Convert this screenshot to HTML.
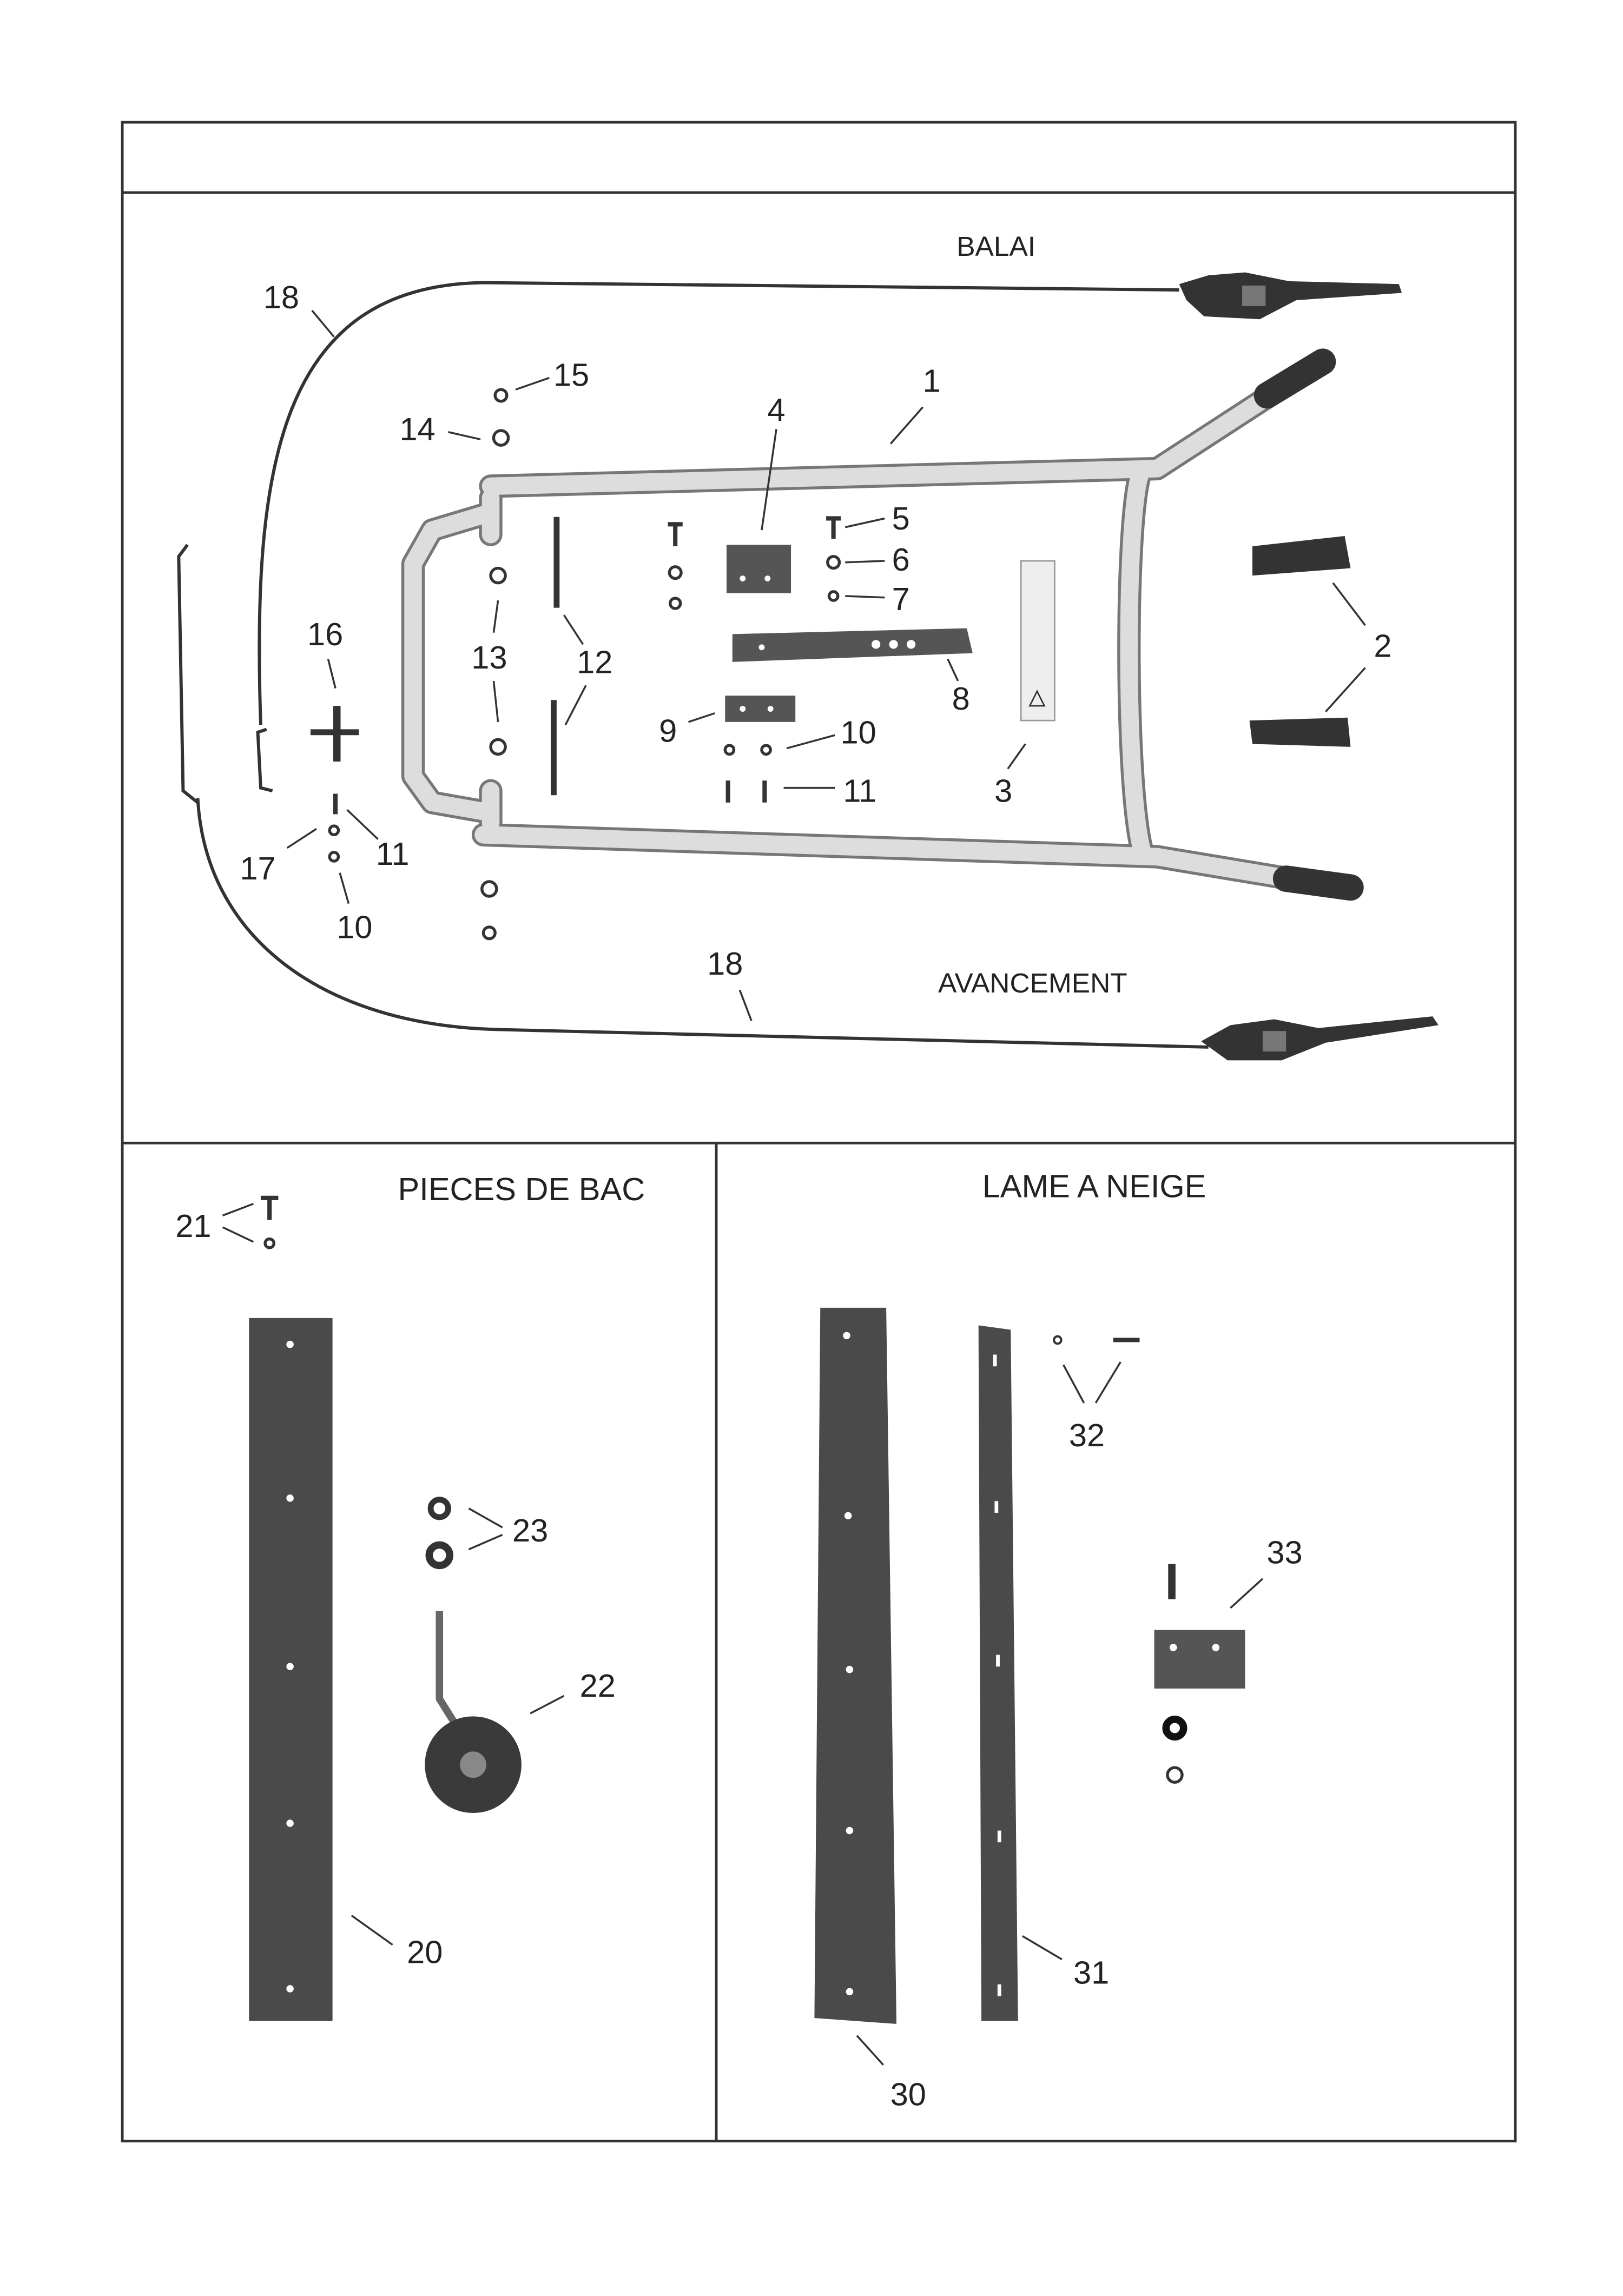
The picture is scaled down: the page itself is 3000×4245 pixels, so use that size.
<!DOCTYPE html>
<html><head><meta charset="utf-8"><style>
html,body{margin:0;padding:0;background:#fff}
svg{display:block}
text{font-family:"Liberation Sans",sans-serif;fill:#222}
</style></head><body>
<svg width="3000" height="4245" viewBox="0 0 1108 1567.8" preserveAspectRatio="none" xmlns="http://www.w3.org/2000/svg">
<rect x="0" y="0" width="1108" height="1568" fill="#fff"/>
<g fill="none" stroke="#333" stroke-width="1.8">
<rect x="83.5" y="83.5" width="951" height="1378.5"/>
<line x1="83.5" y1="131.5" x2="1034.5" y2="131.5"/>
<line x1="83.5" y1="780.5" x2="1034.5" y2="780.5"/>
<line x1="489" y1="780.5" x2="489" y2="1462"/>
</g>

<g fill="none" stroke="#333" stroke-width="2.2">
<path d="M178,495 C172,320 190,195 330,193 L805,198"/>
<path d="M135,545 C140,640 220,700 340,703 L825,715"/>
<path d="M128,372 L122,380 L125,540 L135,548"/>
<path d="M182,498 L176,500 L178,538 L186,540"/>
</g>
<g fill="#333">
<path d="M805,194 L825,188 L850,186 L880,192 L955,194 L957,200 L885,205 L860,218 L822,216 L810,205Z"/>
<rect x="848" y="195" width="16" height="14" fill="#777"/>
<path d="M820,711 L840,700 L870,696 L900,702 L978,694 L982,700 L905,712 L875,724 L838,724Z"/>
<rect x="862" y="704" width="16" height="14" fill="#777"/>
</g>

<g fill="none" stroke-linecap="round" stroke-linejoin="round">
<g stroke="#777" stroke-width="16">
<path d="M335,332 L790,320 L870,268"/>
<path d="M330,570 L790,585 L880,600"/>
<path d="M335,350 L295,362 L282,385 L282,530 L295,548 L335,555"/>
<path d="M778,325 C768,360 768,540 780,582"/>
<path d="M335,340 L335,365 M335,540 L335,562"/>
</g>
<g stroke="#ddd" stroke-width="12">
<path d="M335,332 L790,320 L870,268"/>
<path d="M330,570 L790,585 L880,600"/>
<path d="M335,350 L295,362 L282,385 L282,530 L295,548 L335,555"/>
<path d="M778,325 C768,360 768,540 780,582"/>
<path d="M335,340 L335,365 M335,540 L335,562"/>
</g>
<g stroke="#333" stroke-width="18">
<path d="M865,270 L903,247"/>
<path d="M878,600 L922,606"/>
</g>
</g>

<g fill="none" stroke="#333" stroke-width="2">
<circle cx="342" cy="270" r="4"/><circle cx="342" cy="299" r="5"/>
<circle cx="340" cy="393" r="5"/><circle cx="340" cy="510" r="5"/>
<circle cx="334" cy="607" r="5"/><circle cx="334" cy="637" r="4"/>
<circle cx="461" cy="391" r="4"/><circle cx="461" cy="412" r="3.5"/>
<circle cx="569" cy="384" r="4"/><circle cx="569" cy="407" r="3"/>
<circle cx="498" cy="512" r="3"/><circle cx="523" cy="512" r="3"/>
<circle cx="228" cy="567" r="3"/><circle cx="228" cy="585" r="3"/>
</g>
<g stroke="#333" stroke-width="3">
<line x1="461" y1="358" x2="461" y2="373"/><line x1="456" y1="358" x2="466" y2="358"/>
<line x1="569" y1="354" x2="569" y2="368"/><line x1="564" y1="354" x2="574" y2="354"/>
<line x1="497" y1="533" x2="497" y2="548"/><line x1="522" y1="533" x2="522" y2="548"/>
<line x1="229" y1="542" x2="229" y2="556"/>
<line x1="380" y1="353" x2="380" y2="415" stroke-width="4"/>
<line x1="378" y1="478" x2="378" y2="543" stroke-width="4"/>
<line x1="212" y1="500" x2="245" y2="500" stroke-width="4"/>
<line x1="230" y1="482" x2="230" y2="520" stroke-width="5"/>
</g>
<rect x="496" y="372" width="44" height="33" fill="#555"/>
<circle cx="507" cy="395" r="2" fill="#fff"/><circle cx="524" cy="395" r="2" fill="#fff"/>
<path d="M500,433 L660,429 L664,446 L500,452Z" fill="#555"/>
<circle cx="598" cy="440" r="3" fill="#fff"/><circle cx="610" cy="440" r="3" fill="#fff"/><circle cx="622" cy="440" r="3" fill="#fff"/><circle cx="520" cy="442" r="2" fill="#fff"/>
<rect x="495" y="475" width="48" height="18" fill="#555"/>
<circle cx="507" cy="484" r="2" fill="#fff"/><circle cx="526" cy="484" r="2" fill="#fff"/>
<rect x="697" y="383" width="23" height="109" fill="#eee" stroke="#999"/>
<path d="M703,482 L708,472 L713,482Z" fill="none" stroke="#333"/>
<path d="M855,373 L918,366 L922,388 L855,393Z" fill="#333"/>
<path d="M853,492 L920,490 L922,510 L855,508Z" fill="#333"/>

<g stroke="#333" stroke-width="3" fill="none">
<line x1="184" y1="818" x2="184" y2="833"/><line x1="178" y1="818" x2="190" y2="818"/>
<circle cx="184" cy="849" r="3" stroke-width="2"/>
<circle cx="300" cy="1030" r="6" stroke-width="4"/>
<circle cx="300" cy="1062" r="7" stroke-width="5"/>
<path d="M300,1100 L300,1160 L325,1200" stroke="#666" stroke-width="5"/>
</g>
<rect x="170" y="900" width="57" height="480" fill="#4a4a4a"/>
<g fill="#fff"><circle cx="198" cy="918" r="2.5"/><circle cx="198" cy="1023" r="2.5"/><circle cx="198" cy="1138" r="2.5"/><circle cx="198" cy="1245" r="2.5"/><circle cx="198" cy="1358" r="2.5"/></g>
<circle cx="323" cy="1205" r="33" fill="#3a3a3a"/><circle cx="323" cy="1205" r="9" fill="#888"/>

<path d="M560,893 L605,893 L612,1382 L556,1378Z" fill="#4a4a4a"/>
<g fill="#fff"><circle cx="578" cy="912" r="2.5"/><circle cx="579" cy="1035" r="2.5"/><circle cx="580" cy="1140" r="2.5"/><circle cx="580" cy="1250" r="2.5"/><circle cx="580" cy="1360" r="2.5"/></g>
<path d="M668,905 L690,908 L695,1380 L670,1380Z" fill="#4a4a4a"/>
<g fill="#fff"><rect x="678" y="925" width="2.5" height="8"/><rect x="679" y="1025" width="2.5" height="8"/><rect x="680" y="1130" width="2.5" height="8"/><rect x="681" y="1250" width="2.5" height="8"/><rect x="681" y="1355" width="2.5" height="8"/></g>
<g stroke="#333" fill="none">
<circle cx="722" cy="915" r="2.5" stroke-width="1.5"/>
<line x1="760" y1="915" x2="778" y2="915" stroke-width="3"/>
<line x1="800" y1="1068" x2="800" y2="1092" stroke-width="5"/>
<circle cx="802" cy="1180" r="6" stroke-width="5" stroke="#111"/>
<circle cx="802" cy="1212" r="5" stroke-width="2"/>
</g>
<rect x="788" y="1113" width="62" height="40" fill="#555"/>
<circle cx="801" cy="1125" r="2.5" fill="#fff"/><circle cx="830" cy="1125" r="2.5" fill="#fff"/>

<g stroke="#333" stroke-width="1.3" fill="none">
<line x1="213" y1="212" x2="228" y2="230"/>
<line x1="352" y1="266" x2="375" y2="258"/>
<line x1="306" y1="295" x2="328" y2="300"/>
<line x1="530" y1="293" x2="520" y2="362"/>
<line x1="630" y1="278" x2="608" y2="303"/>
<line x1="577" y1="360" x2="604" y2="354"/>
<line x1="577" y1="384" x2="604" y2="383"/>
<line x1="577" y1="407" x2="604" y2="408"/>
<line x1="224" y1="450" x2="229" y2="470"/>
<line x1="340" y1="410" x2="337" y2="432"/><line x1="337" y1="465" x2="340" y2="493"/>
<line x1="385" y1="420" x2="398" y2="440"/><line x1="400" y1="468" x2="386" y2="495"/>
<line x1="910" y1="398" x2="932" y2="427"/><line x1="932" y1="456" x2="905" y2="486"/>
<line x1="647" y1="450" x2="654" y2="465"/>
<line x1="470" y1="493" x2="488" y2="487"/>
<line x1="537" y1="511" x2="570" y2="502"/>
<line x1="535" y1="538" x2="570" y2="538"/>
<line x1="688" y1="525" x2="700" y2="508"/>
<line x1="237" y1="553" x2="258" y2="573"/>
<line x1="196" y1="579" x2="216" y2="566"/>
<line x1="232" y1="596" x2="238" y2="617"/>
<line x1="505" y1="676" x2="513" y2="697"/>
<line x1="152" y1="830" x2="173" y2="822"/><line x1="152" y1="838" x2="173" y2="848"/>
<line x1="240" y1="1308" x2="268" y2="1328"/>
<line x1="320" y1="1030" x2="343" y2="1043"/><line x1="320" y1="1058" x2="343" y2="1048"/>
<line x1="362" y1="1170" x2="385" y2="1158"/>
<line x1="585" y1="1390" x2="603" y2="1410"/>
<line x1="698" y1="1322" x2="725" y2="1338"/>
<line x1="726" y1="932" x2="740" y2="958"/><line x1="765" y1="930" x2="748" y2="958"/>
<line x1="840" y1="1098" x2="862" y2="1078"/>
</g>

<g font-size="22" text-anchor="middle" dominant-baseline="central">
<text x="680" y="168" font-size="19">BALAI</text>
<text x="705" y="671" font-size="19">AVANCEMENT</text>
<text x="356" y="812">PIECES DE BAC</text>
<text x="747" y="810">LAME A NEIGE</text>
<text x="192" y="203">18</text><text x="390" y="256">15</text><text x="285" y="293">14</text>
<text x="530" y="280">4</text><text x="636" y="260">1</text>
<text x="615" y="354">5</text><text x="615" y="382">6</text><text x="615" y="409">7</text>
<text x="222" y="433">16</text><text x="334" y="449">13</text><text x="406" y="452">12</text>
<text x="944" y="441">2</text><text x="656" y="477">8</text><text x="456" y="499">9</text>
<text x="586" y="500">10</text><text x="587" y="540">11</text><text x="685" y="540">3</text>
<text x="268" y="583">11</text><text x="176" y="593">17</text><text x="242" y="633">10</text>
<text x="495" y="658">18</text>
<text x="132" y="837">21</text><text x="362" y="1045">23</text><text x="408" y="1151">22</text>
<text x="290" y="1333">20</text><text x="620" y="1430">30</text><text x="745" y="1347">31</text>
<text x="742" y="980">32</text><text x="877" y="1060">33</text>
</g>
</svg>
</body></html>
